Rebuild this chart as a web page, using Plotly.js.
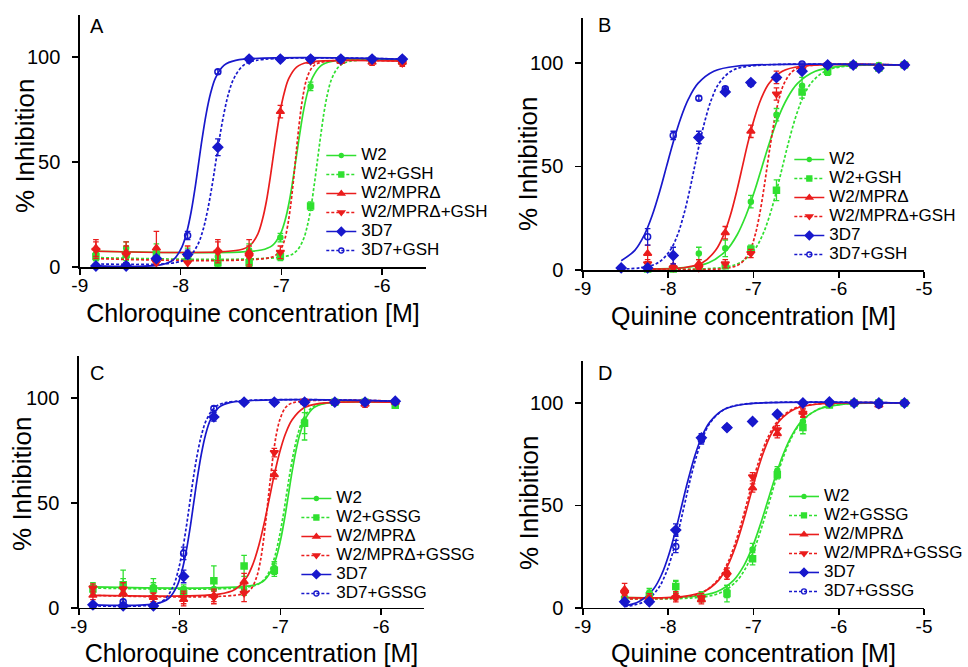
<!DOCTYPE html>
<html>
<head>
<meta charset="utf-8">
<script src="https://cdn.plot.ly/plotly-3.0.1.min.js"></script>
<style>html,body{margin:0;padding:0;background:#fff}#chart{width:968px;height:667px}</style>
</head>
<body>
<div id="chart"></div>
<script>
// ---------------- DATA ----------------
// series order: W2, W2+modifier, W2/MPRΔ, W2/MPRΔ+modifier, 3D7, 3D7+modifier
const namesGSH  = ['W2', 'W2+GSH', 'W2/MPRΔ', 'W2/MPRΔ+GSH', '3D7', '3D7+GSH'];
const namesGSSG = ['W2', 'W2+GSSG', 'W2/MPRΔ', 'W2/MPRΔ+GSSG', '3D7', '3D7+GSSG'];
const xTicksCQ = [-9, -8, -7, -6];
const xTicksQN = [-9, -8, -7, -6, -5];
const yTicks = [0, 50, 100];
const xTitleCQ = 'Chloroquine concentration [M]';
const xTitleQN = 'Quinine concentration [M]';
const yTitle = '% Inhibition';

// ---- Panel A: chloroquine, GSH ----
const A_x = [-8.84, -8.54, -8.24, -7.93, -7.63, -7.32, -7.01, -6.71, -6.41, -6.10, -5.80];
const A_W2_y   = [6, 9, 8, 6, 5, 8, 14, 86, 98.5, 98.5, 98];
const A_W2_e   = [3, 3, 3, 3, 3, 3, 2, 2, 1, 1, 1];
const A_W2M_y  = [5, 6, 6, 4, 2, 2, 5, 29, 98.5, 98.5, 98];
const A_W2M_e  = [2, 3, 3, 2, 2, 2, 2, 2, 1, 1, 1];
const A_MPR_y  = [9, 7, 9, 6, 8, 7, 74, 98, 98, 97.5, 97.5];
const A_MPR_e  = [4, 5, 8, 4, 5, 6, 3, 1, 1, 1.5, 1.5];
const A_MPRM_y = [8, 6, 2, 2, 7, 5, 7, 98, 98, 98, 97];
const A_MPRM_e = [4, 4, 3, 3, 5, 5, 3, 1, 1, 1, 1.5];
const A_3D7_y  = [0.5, 0.5, 4, 6, 57, 99, 99, 99, 99, 99, 99];
const A_3D7_e  = [0.5, 0.5, 1, 2, 4, 0.5, 0.5, 0.5, 0.5, 0.5, 0.5];
const A_3D7M_y = [0.5, 1, 4, 15, 93, 99, 99, 99, 99, 99, 99];
const A_3D7M_e = [0.5, 0.5, 1, 2, 1, 0.5, 0.5, 0.5, 0.5, 0.5, 0.5];
// fitted curves
const A_W2_cx   = [-8.84, -7.199, -7.088, -7.009, -6.961, -6.921, -6.882, -6.85, -6.818, -6.779, -6.739, -6.691, -6.612, -6.501, -5.80];
const A_W2_cy   = [7.5, 8.1, 10.3, 15.8, 22.6, 31.3, 42.7, 53.0, 63.3, 74.7, 83.4, 90.2, 95.7, 97.9, 98.5];
const A_W2M_cx  = [-8.84, -6.954, -6.854, -6.783, -6.74, -6.704, -6.669, -6.64, -6.611, -6.576, -6.54, -6.497, -6.426, -6.326, -5.80];
const A_W2M_cy  = [4.5, 5.1, 7.4, 13.0, 20.1, 29.1, 40.9, 51.5, 62.1, 73.9, 82.9, 90.0, 95.6, 97.9, 98.5];
const A_MPR_cx  = [-8.84, -7.418, -7.311, -7.234, -7.188, -7.149, -7.111, -7.08, -7.049, -7.011, -6.972, -6.926, -6.849, -6.742, -5.80];
const A_MPR_cy  = [7.5, 8.1, 10.3, 15.7, 22.6, 31.2, 42.5, 52.8, 63.0, 74.3, 82.9, 89.8, 95.2, 97.4, 98];
const A_MPRM_cx = [-8.84, -7.104, -7.027, -6.971, -6.938, -6.91, -6.882, -6.86, -6.838, -6.81, -6.782, -6.749, -6.693, -6.616, -5.80];
const A_MPRM_cy = [4, 4.6, 6.9, 12.5, 19.6, 28.6, 40.4, 51.0, 61.6, 73.4, 82.4, 89.5, 95.1, 97.4, 98];
const A_3D7_cx  = [-8.84, -8.187, -8.07, -7.987, -7.937, -7.895, -7.853, -7.82, -7.787, -7.745, -7.703, -7.653, -7.57, -7.453, -5.80];
const A_3D7_cy  = [0.5, 1.1, 3.5, 9.5, 16.9, 26.3, 38.6, 49.8, 60.9, 73.2, 82.6, 90.1, 96.0, 98.4, 99];
const A_3D7M_cx = [-8.84, -8.05, -7.923, -7.832, -7.777, -7.732, -7.686, -7.65, -7.614, -7.568, -7.523, -7.468, -7.377, -7.25, -5.80];
const A_3D7M_cy = [1.5, 2.1, 4.5, 10.4, 17.7, 27.0, 39.2, 50.3, 61.3, 73.5, 82.8, 90.1, 96.0, 98.4, 99];

// ---- Panel B: quinine, GSH ----
const B_x = [-8.55, -8.24, -7.94, -7.64, -7.33, -7.03, -6.73, -6.43, -6.13, -5.83, -5.53, -5.23];
const B_W2_y   = [null, 1, 1, 8, 10.5, 33, 75, 89, 97, 99, 99, 99];
const B_W2_e   = [0, 1, 1, 3, 4, 3, 3, 4, 1, 1, 1, 1];
const B_W2M_y  = [null, 0.5, 0.5, 1, 2, 10, 38.5, 86, 96, 99, 97.5, 99];
const B_W2M_e  = [0, 0.5, 0.5, 1, 1, 2, 5, 3, 2, 1, 1, 1];
const B_MPR_y  = [null, 8, 2, 3, 18, 67, 93, 97, 99, 99, 98, 99];
const B_MPR_e  = [0, 4, 1, 2, 3, 3, 3, 1, 1, 1, 1, 1];
const B_MPRM_y = [null, 3, 1, 1, 3, 8, 85, 97, 99, 99, 98, 99];
const B_MPRM_e = [0, 2, 1, 1, 2, 2, 3, 1, 1, 1, 1, 1];
const B_3D7_y  = [1, 1, 7, 64, 86, 90.5, 93, 96, 99, 99, 97.5, 99];
const B_3D7_e  = [0.5, 0.5, 4, 3, 1, 1, 1, 1, 0.5, 0.5, 1, 0.5];
const B_3D7M_y = [1, 16, 65, 83, 87.5, 90, 93, 99.5, 99, 99, 98, 99];
const B_3D7M_e = [0.5, 4, 2, 1, 1, 1, 1, 0.5, 0.5, 0.5, 0.5, 0.5];
const B_W2_cx   = [-8.24, -7.817, -7.525, -7.317, -7.192, -7.088, -6.983, -6.9, -6.817, -6.713, -6.608, -6.483, -6.275, -5.983, -5.23];
const B_W2_cy   = [0.5, 1.1, 3.5, 9.5, 16.9, 26.3, 38.6, 49.8, 60.9, 73.2, 82.6, 90.1, 96.0, 98.4, 99];
const B_W2M_cx  = [-8.24, -7.393, -7.16, -6.993, -6.893, -6.81, -6.727, -6.66, -6.593, -6.51, -6.427, -6.327, -6.16, -5.927, -5.23];
const B_W2M_cy  = [0.5, 1.1, 3.5, 9.5, 16.9, 26.3, 38.6, 49.8, 60.9, 73.2, 82.6, 90.1, 96.0, 98.4, 99];
const B_MPR_cx  = [-8.24, -7.818, -7.599, -7.443, -7.349, -7.271, -7.193, -7.13, -7.068, -6.989, -6.911, -6.818, -6.661, -6.443, -5.23];
const B_MPR_cy  = [0.5, 1.1, 3.5, 9.5, 16.9, 26.3, 38.6, 49.8, 60.9, 73.2, 82.6, 90.1, 96.0, 98.4, 99];
const B_MPRM_cx = [-8.24, -7.28, -7.14, -7.04, -6.98, -6.93, -6.88, -6.84, -6.80, -6.75, -6.70, -6.64, -6.54, -6.40, -5.23];
const B_MPRM_cy = [0.5, 1.1, 3.5, 9.5, 16.9, 26.3, 38.6, 49.8, 60.9, 73.2, 82.6, 90.1, 96.0, 98.4, 99];
const B_3D7_cx  = [-8.55, -8.39, -8.279, -8.187, -8.094, -8.02, -7.946, -7.853, -7.761, -7.65, -7.464, -7.205, -5.23];
const B_3D7_cy  = [4.5, 9.5, 16.9, 26.3, 38.6, 49.8, 60.9, 73.2, 82.6, 90.1, 96.0, 98.4, 99];
const B_3D7M_cx = [-8.55, -8.319, -8.119, -7.976, -7.89, -7.819, -7.747, -7.69, -7.633, -7.561, -7.49, -7.404, -7.261, -7.061, -5.23];
const B_3D7M_cy = [0.5, 1.1, 3.5, 9.5, 16.9, 26.3, 38.6, 49.8, 60.9, 73.2, 82.6, 90.1, 96.0, 98.4, 99];

// ---- Panel C: chloroquine, GSSG ----
const C_x = [-8.86, -8.56, -8.26, -7.96, -7.66, -7.36, -7.06, -6.76, -6.46, -6.16, -5.86];
const C_W2_y   = [10, 10, 10, 9, 9, 9, 19, 89, 98, 98, 97];
const C_W2_e   = [2, 8, 4, 2, 3, 3, 3, 9, 1, 1, 1];
const C_W2M_y  = [9, 11, 9, 8, 13, 20, 18, 88, 98, 98, 96.5];
const C_W2M_e  = [2, 3, 3, 2, 7, 5, 3, 5, 1, 1, 1];
const C_MPR_y  = [6, 7, 5, 4, 6, 12.5, 63.5, 98, 98, 97, 98];
const C_MPR_e  = [2, 3, 2, 3, 3, 4, 2, 1, 1, 1.5, 1];
const C_MPRM_y = [9.5, 9, 5, 5, 5, 7, 74, 98.5, 98, 98, 98];
const C_MPRM_e = [2, 3, 2, 3, 3, 4, 2, 1, 1, 1, 1];
const C_3D7_y  = [1.5, 1, 1, 15, 91, 98, 98, 98, 98, 98, 98.5];
const C_3D7_e  = [0.5, 0.5, 0.5, 3, 2, 0.5, 0.5, 0.5, 0.5, 0.5, 0.5];
const C_3D7M_y = [1, 3, 1, 26, 95, 98, 98, 98, 98, 98, 98];
const C_3D7M_e = [0.5, 1, 0.5, 3, 1, 0.5, 0.5, 0.5, 0.5, 0.5, 0.5];
const C_W2_cx   = [-8.86, -7.287, -7.17, -7.087, -7.037, -6.995, -6.953, -6.92, -6.887, -6.845, -6.803, -6.753, -6.67, -6.553, -5.86];
const C_W2_cy   = [10, 10.6, 12.7, 18.0, 24.6, 33.0, 44.0, 54.0, 64.0, 75.0, 83.4, 90.0, 95.3, 97.4, 98];
const C_W2M_cx  = [-8.86, -7.307, -7.19, -7.107, -7.057, -7.015, -6.973, -6.94, -6.907, -6.865, -6.823, -6.773, -6.69, -6.573, -5.86];
const C_W2M_cy  = [9.5, 10.1, 12.2, 17.5, 24.2, 32.7, 43.7, 53.8, 63.8, 74.8, 83.3, 90.0, 95.3, 97.4, 98];
const C_MPR_cx  = [-8.86, -7.61, -7.451, -7.337, -7.269, -7.212, -7.155, -7.11, -7.065, -7.008, -6.951, -6.883, -6.769, -6.61, -5.86];
const C_MPR_cy  = [6, 6.6, 8.8, 14.4, 21.3, 30.1, 41.6, 52.0, 62.4, 73.9, 82.7, 89.6, 95.2, 97.4, 98];
const C_MPRM_cx = [-8.86, -7.379, -7.296, -7.238, -7.202, -7.173, -7.144, -7.12, -7.096, -7.067, -7.038, -7.002, -6.944, -6.861, -5.86];
const C_MPRM_cy = [6, 6.6, 8.8, 14.4, 21.4, 30.2, 41.8, 52.3, 62.7, 74.3, 83.1, 90.1, 95.7, 97.9, 98.5];
const C_3D7_cx  = [-8.86, -8.227, -8.11, -8.027, -7.977, -7.935, -7.893, -7.86, -7.827, -7.785, -7.743, -7.693, -7.61, -7.493, -5.86];
const C_3D7_cy  = [1.5, 2.1, 4.5, 10.3, 17.6, 26.9, 39.0, 50.0, 61.0, 73.1, 82.4, 89.7, 95.5, 97.9, 98.5];
const C_3D7M_cx = [-8.86, -8.267, -8.15, -8.067, -8.017, -7.975, -7.933, -7.9, -7.867, -7.825, -7.783, -7.733, -7.65, -7.533, -5.86];
const C_3D7M_cy = [1, 1.6, 4.0, 9.9, 17.2, 26.5, 38.7, 49.8, 60.8, 73.0, 82.3, 89.6, 95.5, 97.9, 98.5];

// ---- Panel D: quinine, GSSG ----
const D_x = [-8.51, -8.22, -7.91, -7.61, -7.31, -7.01, -6.72, -6.42, -6.11, -5.82, -5.53, -5.23];
const D_W2_y   = [5, 7.5, 10, 6, 8, 28.5, 67, 91, 99, 100, 100, 100];
const D_W2_e   = [2, 2, 3, 2, 3, 3, 2, 4, 1, 0.5, 0.5, 0.5];
const D_W2M_y  = [4, 6, 10.5, 5, 7, 24, 65, 88, 99, 100, 100, 100];
const D_W2M_e  = [2, 2, 3, 2, 4, 3, 2, 3, 1, 0.5, 0.5, 0.5];
const D_MPR_y  = [9, 5, 6, 4, 17.5, 58.5, 85, 95.5, 100, 100, 99, 100];
const D_MPR_e  = [3, 2, 2, 2, 2, 2, 2, 2, 1, 0.5, 1, 0.5];
const D_MPRM_y = [7, 4, 5, 5, 16, 64, 87, 95, 100, 100, 99, 100];
const D_MPRM_e = [2, 2, 2, 2, 2, 2, 2, 2, 1, 0.5, 1, 0.5];
const D_3D7_y  = [3, 3, 38, 83, 88, 91, 94.5, 100, 100.5, 100, 100, 100];
const D_3D7_e  = [1, 1, 3, 2, 0.5, 0.5, 0.5, 0.5, 0.5, 0.5, 0.5, 0.5];
const D_3D7M_y = [3, 3, 30, 82, 88, 91, 94.5, 100, 100, 100, 99, 100];
const D_3D7M_e = [1, 1, 3, 2, 0.5, 0.5, 0.5, 0.5, 0.5, 0.5, 0.5, 0.5];
const D_W2_cx   = [-8.51, -7.71, -7.43, -7.23, -7.11, -7.01, -6.91, -6.83, -6.75, -6.65, -6.55, -6.43, -6.23, -5.95, -5.23];
const D_W2_cy   = [5, 5.6, 7.9, 13.6, 20.8, 29.9, 41.8, 52.5, 63.2, 75.1, 84.2, 91.4, 97.1, 99.4, 100];
const D_W2M_cx  = [-8.51, -7.656, -7.387, -7.195, -7.079, -6.983, -6.887, -6.81, -6.733, -6.637, -6.541, -6.425, -6.233, -5.964, -5.23];
const D_W2M_cy  = [4.5, 5.1, 7.4, 13.2, 20.4, 29.5, 41.5, 52.3, 63.1, 75.0, 84.1, 91.3, 97.1, 99.4, 100];
const D_MPR_cx  = [-8.51, -7.836, -7.586, -7.407, -7.3, -7.211, -7.121, -7.05, -6.979, -6.889, -6.8, -6.693, -6.514, -6.264, -5.23];
const D_MPR_cy  = [5, 5.6, 7.9, 13.6, 20.8, 29.9, 41.8, 52.5, 63.2, 75.1, 84.2, 91.4, 97.1, 99.4, 100];
const D_MPRM_cx = [-8.51, -7.856, -7.606, -7.427, -7.32, -7.231, -7.141, -7.07, -6.999, -6.909, -6.82, -6.713, -6.534, -6.284, -5.23];
const D_MPRM_cy = [4.5, 5.1, 7.4, 13.2, 20.4, 29.5, 41.5, 52.3, 63.1, 75.0, 84.1, 91.3, 97.1, 99.4, 100];
const D_3D7_cx  = [-8.51, -8.34, -8.173, -8.073, -7.99, -7.907, -7.84, -7.773, -7.69, -7.607, -7.507, -7.34, -7.107, -5.23];
const D_3D7_cy  = [1.0, 3.1, 9.1, 16.6, 26.2, 38.7, 50.0, 61.3, 73.8, 83.4, 90.9, 96.9, 99.4, 100];
const D_3D7M_cx = [-8.51, -8.279, -8.123, -8.029, -7.951, -7.873, -7.81, -7.748, -7.669, -7.591, -7.498, -7.341, -7.123, -5.23];
const D_3D7M_cy = [0.6, 3.1, 9.1, 16.6, 26.2, 38.7, 50.0, 61.3, 73.8, 83.4, 90.9, 96.9, 99.4, 100];

// ---------------- STYLE ----------------
const FONT = 'Liberation Sans, Arial, Helvetica, sans-serif';
const GREEN = '#30e030', RED = '#ea1d1d', BLUE = '#1818cc';
const DASH = '3px,2px';
const STY = [
  {color: GREEN, dash: 'solid', symbol: 'circle', size: 5},
  {color: GREEN, dash: DASH, symbol: 'square', size: 6},
  {color: RED, dash: 'solid', symbol: 'triangle-up', size: 7},
  {color: RED, dash: DASH, symbol: 'triangle-down', size: 7},
  {color: BLUE, dash: 'solid', symbol: 'diamond', size: 7.5},
  {color: BLUE, dash: DASH, symbol: 'circle-open', size: 6}
];

const panels = [
  {xa: 'x', ya: 'y', lg: 'legend', names: namesGSH, x: A_x,
   ys: [A_W2_y, A_W2M_y, A_MPR_y, A_MPRM_y, A_3D7_y, A_3D7M_y],
   es: [A_W2_e, A_W2M_e, A_MPR_e, A_MPRM_e, A_3D7_e, A_3D7M_e],
   cxs: [A_W2_cx, A_W2M_cx, A_MPR_cx, A_MPRM_cx, A_3D7_cx, A_3D7M_cx],
   cys: [A_W2_cy, A_W2M_cy, A_MPR_cy, A_MPRM_cy, A_3D7_cy, A_3D7M_cy]},
  {xa: 'x2', ya: 'y2', lg: 'legend2', names: namesGSH, x: B_x,
   ys: [B_W2_y, B_W2M_y, B_MPR_y, B_MPRM_y, B_3D7_y, B_3D7M_y],
   es: [B_W2_e, B_W2M_e, B_MPR_e, B_MPRM_e, B_3D7_e, B_3D7M_e],
   cxs: [B_W2_cx, B_W2M_cx, B_MPR_cx, B_MPRM_cx, B_3D7_cx, B_3D7M_cx],
   cys: [B_W2_cy, B_W2M_cy, B_MPR_cy, B_MPRM_cy, B_3D7_cy, B_3D7M_cy]},
  {xa: 'x3', ya: 'y3', lg: 'legend3', names: namesGSSG, x: C_x,
   ys: [C_W2_y, C_W2M_y, C_MPR_y, C_MPRM_y, C_3D7_y, C_3D7M_y],
   es: [C_W2_e, C_W2M_e, C_MPR_e, C_MPRM_e, C_3D7_e, C_3D7M_e],
   cxs: [C_W2_cx, C_W2M_cx, C_MPR_cx, C_MPRM_cx, C_3D7_cx, C_3D7M_cx],
   cys: [C_W2_cy, C_W2M_cy, C_MPR_cy, C_MPRM_cy, C_3D7_cy, C_3D7M_cy]},
  {xa: 'x4', ya: 'y4', lg: 'legend4', names: namesGSSG, x: D_x,
   ys: [D_W2_y, D_W2M_y, D_MPR_y, D_MPRM_y, D_3D7_y, D_3D7M_y],
   es: [D_W2_e, D_W2M_e, D_MPR_e, D_MPRM_e, D_3D7_e, D_3D7M_e],
   cxs: [D_W2_cx, D_W2M_cx, D_MPR_cx, D_MPRM_cx, D_3D7_cx, D_3D7M_cx],
   cys: [D_W2_cy, D_W2M_cy, D_MPR_cy, D_MPRM_cy, D_3D7_cy, D_3D7M_cy]}
];

const traces = [];
panels.forEach(p => {
  p.cxs.forEach((cx, i) => {
    const s = STY[i];
    traces.push({type: 'scatter', mode: 'lines', x: cx, y: p.cys[i], xaxis: p.xa, yaxis: p.ya,
      line: {color: s.color, width: 1.7, dash: s.dash, shape: 'spline', smoothing: 1},
      showlegend: false, hoverinfo: 'skip'});
  });
  p.ys.forEach((y, i) => {
    const s = STY[i];
    traces.push({type: 'scatter', mode: 'markers', x: p.x, y: y, xaxis: p.xa, yaxis: p.ya,
      marker: {color: s.color, symbol: s.symbol, size: s.size, line: {color: s.color, width: 1.5}},
      error_y: {type: 'data', array: p.es[i], visible: true, color: s.color, thickness: 1.3, width: 2.8},
      cliponaxis: false, showlegend: false, name: p.names[i]});
  });
  p.names.forEach((nm, i) => {
    const s = STY[i];
    traces.push({type: 'scatter', mode: 'lines+markers', x: [null], y: [null], xaxis: p.xa, yaxis: p.ya,
      name: '<span style="font-size:17px">' + nm + '</span>', legend: p.lg, showlegend: true,
      line: {color: s.color, width: 1.6, dash: s.dash},
      marker: {color: s.color, symbol: s.symbol, size: s.size - 1, line: {color: s.color, width: 1.3}}});
  });
});

function xAxis(domain, range, ticks, anchor, title, standoff) {
  return {domain: domain, range: range, anchor: anchor, tickvals: ticks, ticktext: ticks.map(String),
    ticks: 'outside', ticklen: 6, tickwidth: 1.5, tickcolor: '#000', showline: true, linecolor: '#000', linewidth: 1.5,
    showgrid: false, zeroline: false, tickfont: {family: FONT, size: 19, color: '#000'}, ticklabelstandoff: -5,
    title: {text: title, font: {family: FONT, size: 25, color: '#000'}, standoff: standoff}};
}
function yAxis(domain, range, anchor) {
  return {domain: domain, range: range, anchor: anchor, tickvals: yTicks,
    ticks: 'outside', ticklen: 6, tickwidth: 1.5, tickcolor: '#000', showline: true, linecolor: '#000', linewidth: 1.5,
    showgrid: false, zeroline: false, tickfont: {family: FONT, size: 20, color: '#000'}, ticklabelstandoff: 8};
}
function legendBox(x, y) {
  return {x: x, y: y, xanchor: 'left', yanchor: 'top', bgcolor: 'rgba(0,0,0,0)', borderwidth: 0,
    font: {family: FONT, size: 12, color: '#000'}, itemwidth: 30, tracegroupgap: 0, itemclick: false, itemdoubleclick: false};
}
function panelLabel(txt, x, y) {
  return {text: txt, xref: 'paper', yref: 'paper', x: x, y: y, xanchor: 'left', yanchor: 'middle',
    showarrow: false, font: {family: FONT, size: 20, color: '#000'}};
}
function yTitleAnn(x, y) {
  return {text: yTitle, xref: 'paper', yref: 'paper', x: x, y: y, xanchor: 'center', yanchor: 'middle',
    textangle: -90, showarrow: false, font: {family: FONT, size: 26, color: '#000'}};
}

const layout = {
  width: 968, height: 667, margin: {l: 0, r: 0, t: 0, b: 0},
  paper_bgcolor: '#fff', plot_bgcolor: 'rgba(0,0,0,0)', showlegend: true,
  font: {family: FONT, color: '#000'},
  xaxis:  xAxis([0.0826, 0.4411], [-9, -5.564], xTicksCQ, 'y',  xTitleCQ, 9),
  yaxis:  yAxis([0.5997, 0.9775], [0, 120], 'x'),
  xaxis2: xAxis([0.6033, 0.9566], [-9, -5], xTicksQN, 'y2', xTitleQN, 9),
  yaxis2: yAxis([0.5952, 0.9730], [0, 121.7], 'x2'),
  xaxis3: xAxis([0.0816, 0.4390], [-9, -5.574], xTicksCQ, 'y3', xTitleCQ, 10),
  yaxis3: yAxis([0.0885, 0.4663], [0, 120], 'x3'),
  xaxis4: xAxis([0.6033, 0.9566], [-9, -5], xTicksQN, 'y4', xTitleQN, 10),
  yaxis4: yAxis([0.0885, 0.4588], [0, 120.5], 'x4'),
  legend:  legendBox(0.3326, 0.7886),
  legend2: legendBox(0.8171, 0.7826),
  legend3: legendBox(0.3068, 0.2744),
  legend4: legendBox(0.8120, 0.2774),
  annotations: [
    panelLabel('A', 88 / 968, 1 - 26 / 667),
    panelLabel('B', 597 / 968, 1 - 25 / 667),
    panelLabel('C', 88 / 968, 1 - 373 / 667),
    panelLabel('D', 597 / 968, 1 - 373 / 667),
    yTitleAnn(25 / 968, 1 - 146 / 667),
    yTitleAnn(529 / 968, 1 - 164 / 667),
    yTitleAnn(22 / 968, 1 - 484 / 667),
    yTitleAnn(530 / 968, 1 - 503 / 667)
  ]
};

Plotly.newPlot('chart', traces, layout, {displayModeBar: false, staticPlot: true});
</script>
</body>
</html>
